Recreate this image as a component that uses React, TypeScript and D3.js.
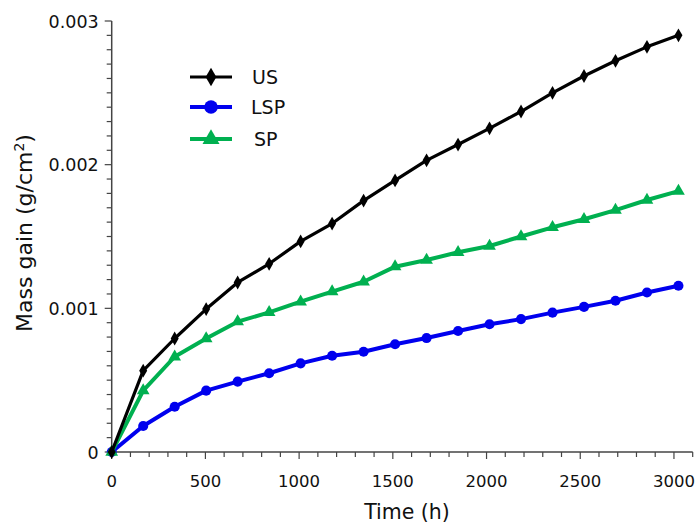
import React, { useEffect, useRef } from 'react';
import * as d3 from 'd3';

// sampling times (h), one point per week
const times = [0, 168, 336, 504, 672, 840, 1008, 1176, 1344, 1512, 1680, 1848, 2016, 2184, 2352, 2520, 2688, 2856, 3024];

const usValues = [0, 0.000566, 0.00079, 0.000995, 0.00118, 0.00131, 0.001466, 0.00159, 0.00175, 0.00189, 0.00203, 0.00214, 0.002253, 0.00237, 0.0025, 0.002617, 0.002723, 0.00282, 0.0029];
const lspValues = [0, 0.000181, 0.000315, 0.000427, 0.00049, 0.000548, 0.000617, 0.00067, 0.000698, 0.00075, 0.000793, 0.000842, 0.000889, 0.000925, 0.00097, 0.00101, 0.001053, 0.00111, 0.001157];
const spValues = [0, 0.000427, 0.000663, 0.00079, 0.000907, 0.000972, 0.001046, 0.001116, 0.001185, 0.00129, 0.001336, 0.00139, 0.001434, 0.0015, 0.001564, 0.00162, 0.001684, 0.001754, 0.001816];

const seriesNames = ['US', 'LSP', 'SP'];
const xTicks = [0, 500, 1000, 1500, 2000, 2500, 3000];
const yTicks = [0, 0.001, 0.002, 0.003];
const yTickLabels = ['0', '0.001', '0.002', '0.003'];

const FONT = 'DejaVu Sans, Verdana, sans-serif';

const App = () => {
  const ref = useRef<SVGSVGElement>(null);

  useEffect(() => {
    const svg = d3.select(ref.current);
    svg.selectAll('*').remove();

    const left = 111.7, right = 692.7, top = 21, bottom = 452;

    const x = d3.scaleLinear().domain([0, 3100]).range([left, right]);
    const y = d3.scaleLinear().domain([0, 0.003]).range([bottom, top]);

    const axisColor = '#444';

    // x axis
    const xg = svg.append('g').attr('transform', `translate(0,${bottom})`);
    xg.append('line').attr('x1', left).attr('x2', right).attr('stroke', axisColor).attr('stroke-width', 1.5);
    d3.range(0, 3101, 100).forEach((t) => {
      const major = t % 500 === 0;
      xg.append('line')
        .attr('x1', x(t)).attr('x2', x(t))
        .attr('y1', 0).attr('y2', major ? 7 : 5)
        .attr('stroke', axisColor).attr('stroke-width', 1.2);
    });
    xg.selectAll('text.tick')
      .data(xTicks)
      .enter().append('text')
      .attr('x', (d) => x(d))
      .attr('y', 35)
      .attr('text-anchor', 'middle')
      .style('font-family', FONT)
      .style('font-size', '16.5px')
      .attr('fill', '#111')
      .text((d) => String(d));

    // y axis
    const yg = svg.append('g');
    yg.append('line').attr('x1', left).attr('x2', left).attr('y1', top).attr('y2', bottom).attr('stroke', axisColor).attr('stroke-width', 1.5);
    d3.range(0, 31).forEach((i) => {
      const v = i * 0.0001;
      const major = i % 10 === 0;
      yg.append('line')
        .attr('x1', left - (major ? 7 : 5)).attr('x2', left)
        .attr('y1', y(v)).attr('y2', y(v))
        .attr('stroke', axisColor).attr('stroke-width', 1.2);
    });
    yg.selectAll('text.tick')
      .data(yTicks)
      .enter().append('text')
      .attr('x', left - 13)
      .attr('y', (d) => y(d) + 6.5)
      .attr('text-anchor', 'end')
      .style('font-family', FONT)
      .style('font-size', '17.5px')
      .attr('fill', '#111')
      .text((d, i) => yTickLabels[i]);

    // axis titles
    svg.append('text')
      .attr('x', 407).attr('y', 519)
      .attr('text-anchor', 'middle')
      .style('font-family', FONT).style('font-size', '20.5px')
      .attr('fill', '#111')
      .text('Time (h)');

    const yt = svg.append('text')
      .attr('transform', 'translate(32,233) rotate(-90)')
      .attr('text-anchor', 'middle')
      .style('font-family', FONT).style('font-size', '22px')
      .attr('fill', '#111');
    yt.append('tspan').text('Mass gain (g/cm');
    yt.append('tspan').attr('dy', -8).style('font-size', '14px').text('2');
    yt.append('tspan').attr('dy', 8).text(')');

    const series = [
      { name: seriesNames[0], values: usValues, color: '#000000', width: 3.2, symbol: d3.symbolDiamond, size: 55 },
      { name: seriesNames[1], values: lspValues, color: '#0000ee', width: 4, symbol: d3.symbolCircle, size: 80 },
      { name: seriesNames[2], values: spValues, color: '#00b050', width: 4, symbol: d3.symbolTriangle, size: 70 },
    ];

    const line = d3.line<number>()
      .x((d, i) => x(times[i]))
      .y((d) => y(d));

    // draw US last so it sits on top like in the reference
    const order = [1, 2, 0];
    order.forEach((k) => {
      const s = series[k];
      const g = svg.append('g');
      g.append('path')
        .datum(s.values)
        .attr('d', line)
        .attr('fill', 'none')
        .attr('stroke', s.color)
        .attr('stroke-width', s.width)
        .attr('stroke-linejoin', 'round');
      g.selectAll('.pt')
        .data(s.values)
        .enter().append('path')
        .attr('class', 'pt')
        .attr('transform', (d, i) => `translate(${x(times[i])},${y(d)})`)
        .attr('d', d3.symbol().type(s.symbol).size(s.size)())
        .attr('fill', s.color);
    });

    // legend
    const legY = [77, 107, 139];
    const textX = [252, 251, 254];
    series.forEach((s, i) => {
      const g = svg.append('g').attr('transform', `translate(0,${legY[i]})`);
      g.append('line').attr('x1', 190).attr('x2', 232).attr('stroke', s.color).attr('stroke-width', s.width);
      g.append('path')
        .attr('transform', 'translate(211,0)')
        .attr('d', d3.symbol().type(s.symbol).size(s.size * 1.8)())
        .attr('fill', s.color);
      g.append('text')
        .attr('x', textX[i]).attr('y', 7)
        .style('font-family', FONT).style('font-size', '19px')
        .attr('fill', '#111')
        .text(s.name);
    });
  }, []);

  return (
    <svg
      ref={ref}
      width={698}
      height={524}
      style={{ position: 'absolute', left: 0, top: 0, background: '#fff' }}
    />
  );
};

export default App;
